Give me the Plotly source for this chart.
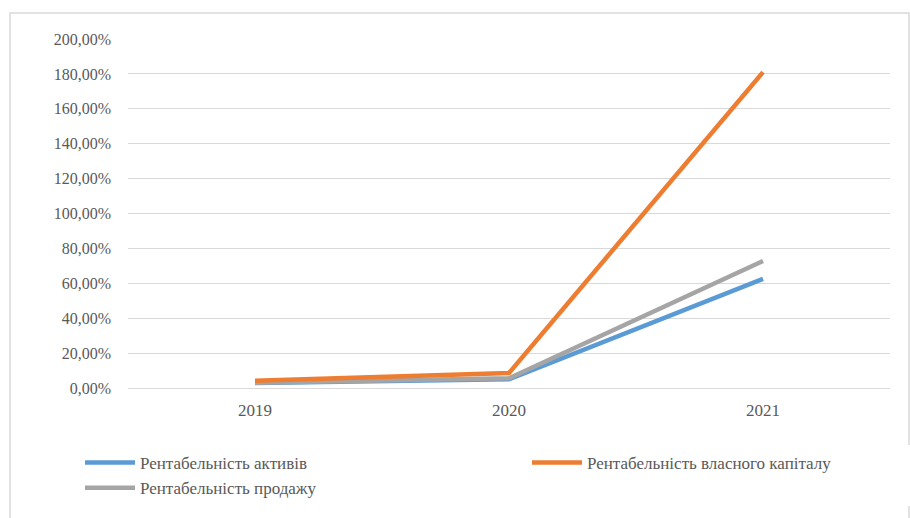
import plotly.graph_objects as go

years = ["2019", "2020", "2021"]
roa = [0.028, 0.050, 0.625]
roe = [0.042, 0.086, 1.81]
ros = [0.030, 0.056, 0.728]
names = ["Рентабельність активів", "Рентабельність власного капіталу", "Рентабельність продажу"]
colors = ["#5b9bd5", "#ed7d31", "#a5a5a5"]
tickvals = [i * 0.2 for i in range(11)]

L, R, T, B = 128, 20, 39, 130
W, H = 910, 518
pw = W - L - R
ph = H - T - B

fig = go.Figure()
order = [0, 2, 1]
series = [roa, roe, ros]
ranks = [1, 2, 3]
for i in order:
    fig.add_trace(go.Scatter(x=years, y=series[i], name=names[i], mode="lines",
                             line=dict(color=colors[i], width=4.5), legendrank=ranks[i]))

def px_x(p):
    return (p - L) / pw
def px_y(p):
    return (H - B - p) / ph

fig.add_shape(type="rect", xref="paper", yref="paper",
              x0=px_x(10), x1=px_x(909), y0=px_y(600), y1=px_y(13),
              line=dict(color="#d9d9d9", width=1.5), layer="below")

FONT = "Times New Roman, Liberation Serif, serif"
fig.update_layout(
    width=W, height=H,
    margin=dict(l=L, r=R, t=T, b=B, autoexpand=False),
    plot_bgcolor="white", paper_bgcolor="white",
    separators=", ",
    font=dict(family=FONT, color="#595959", size=16),
    showlegend=True,
    legend=dict(orientation="h", x=px_x(80), y=px_y(445), xanchor="left", yanchor="top",
                entrywidth=382, entrywidthmode="pixels", traceorder="normal",
                font=dict(family=FONT, size=17, color="#595959"), itemwidth=50, tracegroupgap=0),
)
fig.update_xaxes(type="category", range=[-0.5, 2.5], showgrid=False, showline=False,
                 ticks="", ticklabelstandoff=10, tickfont=dict(size=17))
fig.update_yaxes(range=[0, 2.0], tickvals=tickvals, tickformat=".2%",
                 showgrid=True, gridcolor="#d9d9d9", gridwidth=1.2,
                 zeroline=True, zerolinecolor="#d9d9d9", zerolinewidth=1.2,
                 showline=False, ticks="", ticklabelstandoff=16, tickfont=dict(size=16))

fig.write_html("out.html")
